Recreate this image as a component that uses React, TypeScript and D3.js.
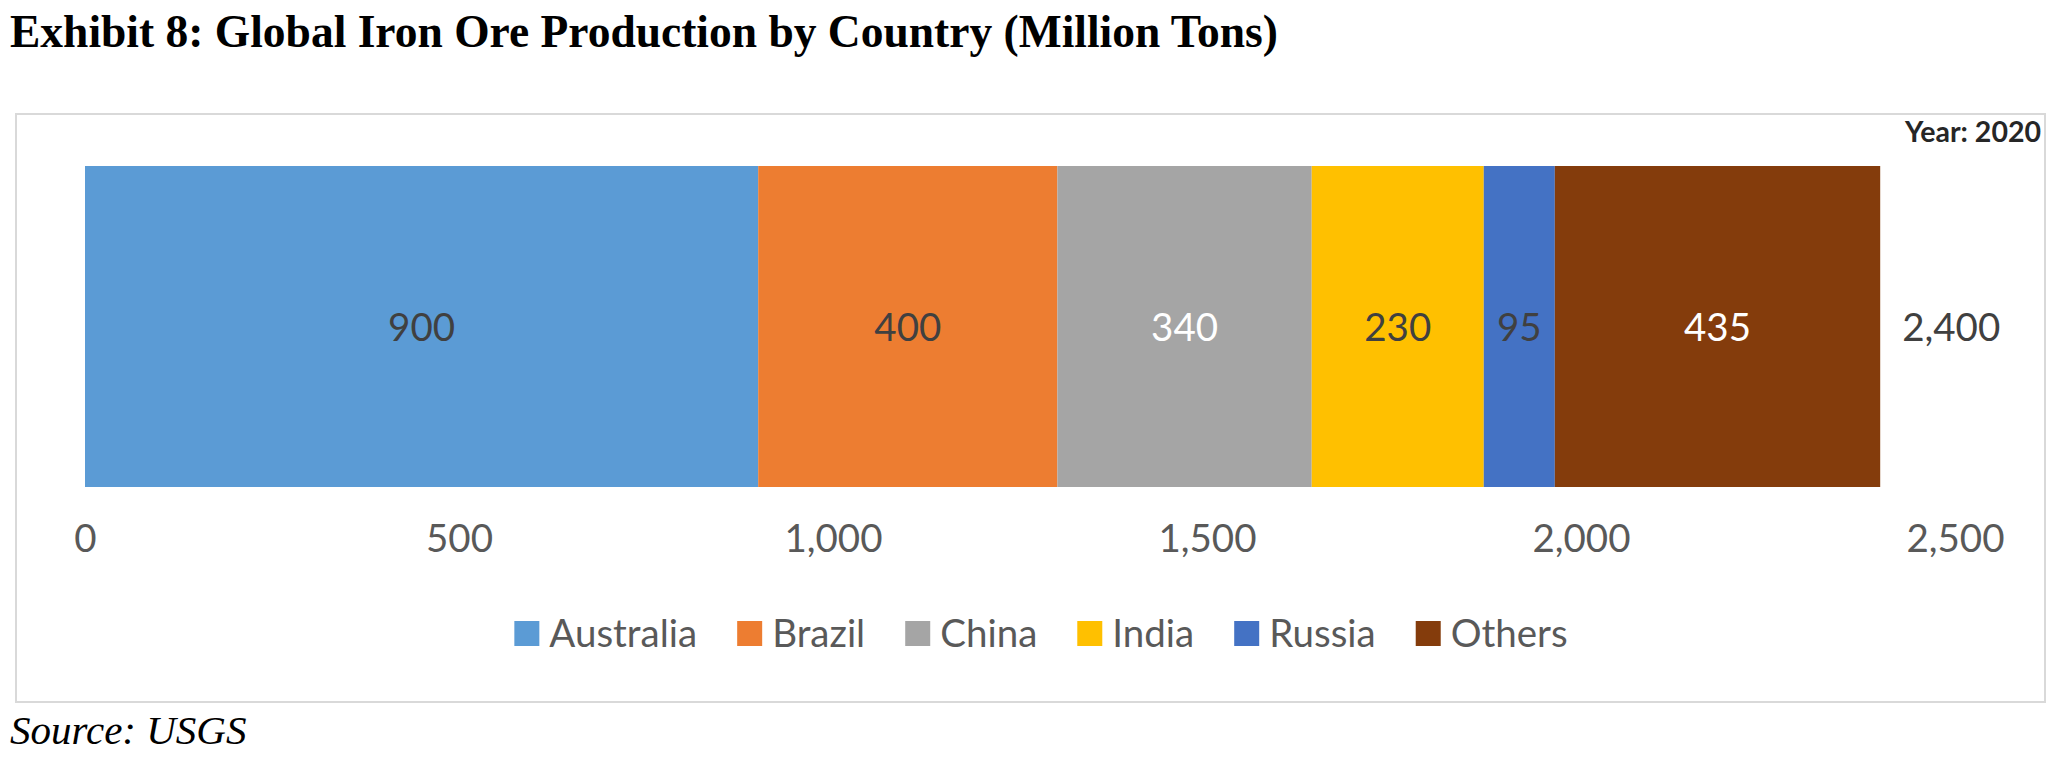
import React, { useEffect, useRef } from "react";
import * as d3 from "d3";

const countries = ["Australia", "Brazil", "China", "India", "Russia", "Others"];
const production = [900, 400, 340, 230, 95, 435];
const colors = ["#5B9BD5", "#ED7D31", "#A5A5A5", "#FFC000", "#4472C4", "#843C0C"];
const labelColors = ["#404040", "#404040", "#ffffff", "#404040", "#404040", "#ffffff"];
const ticks = [0, 500, 1000, 1500, 2000, 2500];
const year = "2020";

const W = 2058;
const H = 768;
const SANS = "Lato, 'Open Sans', sans-serif";
const SERIF = "'Liberation Serif', 'Times New Roman', serif";

export default function App() {
  const ref = useRef<SVGSVGElement>(null);

  useEffect(() => {
    document.body.style.margin = "0";
    const node = ref.current;
    if (!node) return;
    const svg = d3.select(node);
    svg.selectAll("*").remove();

    const total = d3.sum(production);
    const x = d3.scaleLinear().domain([0, 2500]).range([85, 1955]);
    const y = d3.scaleBand().domain([year]).range([166, 487]).padding(0);

    // title
    svg.append("text")
      .attr("x", 10)
      .attr("y", 47)
      .attr("font-family", SERIF)
      .attr("font-weight", "bold")
      .attr("font-size", 45.5)
      .attr("fill", "#000")
      .text("Exhibit 8: Global Iron Ore Production by Country (Million Tons)");

    // chart frame
    svg.append("rect")
      .attr("x", 16)
      .attr("y", 114)
      .attr("width", 2029)
      .attr("height", 588)
      .attr("fill", "#fff")
      .attr("stroke", "#d9d9d9")
      .attr("stroke-width", 2);

    svg.append("text")
      .attr("x", 2041)
      .attr("y", 142)
      .attr("text-anchor", "end")
      .attr("font-family", SANS)
      .attr("font-weight", "bold")
      .attr("font-size", 28.5)
      .attr("fill", "#262626")
      .text(`Year: ${year}`);

    // stacked segments
    const starts = d3.cumsum([0, ...production]);
    const segs = countries.map((c, i) => ({
      c,
      v: production[i],
      x0: starts[i],
      x1: starts[i] + production[i],
      color: colors[i],
      lc: labelColors[i],
    }));

    const g = svg.append("g");
    g.selectAll("rect.seg")
      .data(segs)
      .enter()
      .append("rect")
      .attr("class", "seg")
      .attr("x", d => x(d.x0))
      .attr("y", y(year)!)
      .attr("width", d => x(d.x1) - x(d.x0))
      .attr("height", y.bandwidth())
      .attr("fill", d => d.color);

    const cy = y(year)! + y.bandwidth() / 2;
    g.selectAll("text.val")
      .data(segs)
      .enter()
      .append("text")
      .attr("class", "val")
      .attr("x", d => x((d.x0 + d.x1) / 2))
      .attr("y", cy + 14)
      .attr("text-anchor", "middle")
      .attr("font-family", SANS)
      .attr("font-size", 38.5)
      .attr("fill", d => d.lc)
      .text(d => d3.format(",")(d.v));

    // total label
    g.append("text")
      .attr("x", x(total) + 22)
      .attr("y", cy + 14)
      .attr("font-family", SANS)
      .attr("font-size", 38.5)
      .attr("fill", "#404040")
      .text(d3.format(",")(total));

    // x axis labels
    const ax = svg.append("g").attr("transform", "translate(0,552)")
      .call(d3.axisBottom(x).tickValues(ticks).tickFormat(d3.format(",") as any).tickSize(0).tickPadding(0));
    ax.select(".domain").remove();
    ax.selectAll("text")
      .attr("y", 0)
      .attr("dy", 0)
      .attr("font-family", SANS)
      .attr("font-size", 38.5)
      .attr("fill", "#595959");

    // legend
    const lg = svg.append("g");
    const items = lg.selectAll("g.item")
      .data(segs)
      .enter()
      .append("g")
      .attr("class", "item");
    items.append("rect")
      .attr("y", 621)
      .attr("width", 25)
      .attr("height", 25)
      .attr("fill", d => d.color);
    const texts = items.append("text")
      .attr("x", 35)
      .attr("y", 647)
      .attr("font-family", SANS)
      .attr("font-size", 38.5)
      .attr("fill", "#595959")
      .text(d => d.c);
    const widths: number[] = [];
    texts.each(function () {
      widths.push((this as SVGTextElement).getComputedTextLength());
    });
    const gap = 40;
    const itemW = widths.map(w => 35 + w);
    const totalW = d3.sum(itemW) + gap * (itemW.length - 1);
    let cur = 1041 - totalW / 2;
    items.attr("transform", (_d, i) => {
      const t = `translate(${cur},0)`;
      cur += itemW[i] + gap;
      return t;
    });

    // source
    svg.append("text")
      .attr("x", 10)
      .attr("y", 744)
      .attr("font-family", SERIF)
      .attr("font-style", "italic")
      .attr("font-size", 41)
      .attr("fill", "#000")
      .text("Source: USGS");
  }, []);

  return <svg ref={ref} width={W} height={H} style={{ display: "block", background: "#fff" }} />;
}
